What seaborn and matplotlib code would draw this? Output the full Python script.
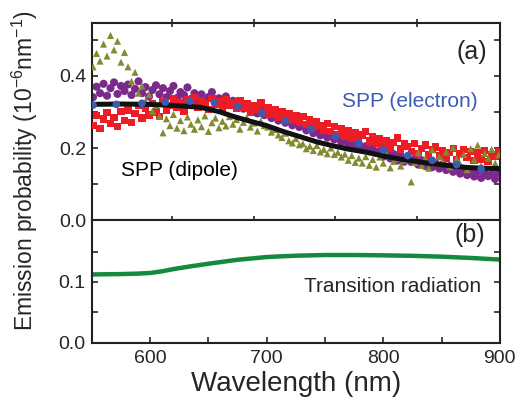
import matplotlib
matplotlib.use("Agg")
import matplotlib.pyplot as plt
import numpy as np
import seaborn as sns

# measured spectra, one point every 3 nm from 551 to 899 nm
wl_scan = np.arange(551, 900, 3)

red_vals = [
    0.262, 0.291, 0.255, 0.280, 0.298, 0.268, 0.284, 0.259, 0.301, 0.276,
    0.305, 0.270, 0.296, 0.318, 0.283, 0.309, 0.292, 0.324, 0.300, 0.287,
    0.329, 0.305, 0.318, 0.336, 0.312, 0.327, 0.301, 0.333, 0.319, 0.340,
    0.314, 0.331, 0.322, 0.307, 0.338, 0.320, 0.329, 0.311, 0.335, 0.318,
    0.326, 0.309, 0.331, 0.314, 0.322, 0.300, 0.318, 0.306, 0.325, 0.297,
    0.311, 0.293, 0.305, 0.286, 0.300, 0.283, 0.296, 0.278, 0.291, 0.272,
    0.287, 0.265, 0.279, 0.258, 0.273, 0.262, 0.250, 0.268, 0.245, 0.259,
    0.238, 0.254, 0.233, 0.249, 0.228, 0.243, 0.222, 0.236, 0.246, 0.219,
    0.231, 0.213, 0.226, 0.208, 0.221, 0.200, 0.215, 0.228, 0.197, 0.211,
    0.205, 0.190, 0.213, 0.184, 0.199, 0.208, 0.181, 0.196, 0.203, 0.178,
    0.193, 0.172, 0.188, 0.199, 0.168, 0.184, 0.195, 0.174, 0.190, 0.165,
    0.186, 0.170, 0.194, 0.163, 0.181, 0.176, 0.190,
]

purple_vals = [
    0.341, 0.370, 0.352, 0.378, 0.345, 0.366, 0.382, 0.350, 0.372, 0.358,
    0.376, 0.347, 0.364, 0.385, 0.352, 0.369, 0.343, 0.361, 0.374, 0.349,
    0.366, 0.341, 0.358, 0.372, 0.339, 0.355, 0.347, 0.368, 0.336, 0.352,
    0.333, 0.349, 0.326, 0.341, 0.355, 0.330, 0.338, 0.322, 0.343, 0.327,
    0.331, 0.316, 0.327, 0.309, 0.320, 0.303, 0.314, 0.296, 0.305, 0.291,
    0.299, 0.283, 0.292, 0.276, 0.285, 0.270, 0.279, 0.263, 0.272, 0.258,
    0.264, 0.249, 0.256, 0.241, 0.250, 0.235, 0.243, 0.229, 0.238, 0.224,
    0.230, 0.216, 0.224, 0.209, 0.217, 0.203, 0.212, 0.196, 0.205, 0.191,
    0.199, 0.186, 0.192, 0.176, 0.187, 0.171, 0.183, 0.165, 0.178, 0.162,
    0.175, 0.161, 0.170, 0.154, 0.166, 0.150, 0.162, 0.147, 0.158, 0.143,
    0.155, 0.139, 0.150, 0.134, 0.146, 0.129, 0.142, 0.125, 0.138, 0.121,
    0.136, 0.117, 0.133, 0.122, 0.128, 0.114, 0.131,
]

olive_vals = [
    0.425, 0.462, 0.441, 0.488, 0.455, 0.512, 0.472, 0.496, 0.438, 0.465,
    0.425, 0.385, 0.410, 0.352, 0.372, 0.330, 0.348, 0.302, 0.318, 0.288,
    0.242, 0.281, 0.262, 0.293, 0.255, 0.276, 0.248, 0.286, 0.266, 0.252,
    0.278, 0.259, 0.289, 0.246, 0.270, 0.283, 0.256, 0.274, 0.261, 0.287,
    0.266, 0.279, 0.252, 0.271, 0.285, 0.258, 0.269, 0.247, 0.275, 0.262,
    0.258, 0.244, 0.251, 0.236, 0.229, 0.241, 0.220, 0.214, 0.226, 0.209,
    0.212, 0.198, 0.205, 0.193, 0.207, 0.189, 0.196, 0.184, 0.200, 0.182,
    0.188, 0.175, 0.183, 0.166, 0.179, 0.160, 0.172, 0.158, 0.176, 0.152,
    0.168, 0.147, 0.175, 0.158, 0.182, 0.145, 0.163, 0.171, 0.150, 0.166,
    0.178, 0.106, 0.160, 0.187, 0.152, 0.171, 0.144, 0.195, 0.158, 0.176,
    0.163, 0.189, 0.148, 0.201, 0.170, 0.155, 0.182, 0.140, 0.198, 0.167,
    0.208, 0.151, 0.185, 0.172, 0.196, 0.158, 0.181,
]

# SPP (electron) calculation, blue dots
wl_electron = [551, 571, 593, 613, 634, 655, 675, 696, 716, 738, 759, 779, 800, 821, 842, 863, 884]
electron_vals = [0.319, 0.321, 0.324, 0.327, 0.330, 0.326, 0.315, 0.296, 0.275, 0.253,
                 0.232, 0.213, 0.195, 0.179, 0.166, 0.154, 0.142]

# SPP (dipole) calculation, black line
wl_dipole = [550, 575, 600, 620, 643, 660, 671, 685, 700, 714, 730, 743, 757, 770,
             786, 800, 815, 830, 843, 857, 872, 886, 900]
dipole_vals = [0.321, 0.322, 0.321, 0.318, 0.313, 0.300, 0.288, 0.275, 0.262, 0.246,
               0.230, 0.217, 0.206, 0.197, 0.188, 0.178, 0.169, 0.162, 0.156, 0.151,
               0.146, 0.144, 0.143]

# transition radiation, green line
wl_tr = [550, 575, 590, 600, 610, 620, 635, 650, 675, 700, 725, 750, 775, 800,
         825, 850, 875, 900]
tr_vals = [0.1124, 0.1130, 0.1138, 0.1148, 0.1175, 0.1212, 0.1258, 0.1300, 0.1365,
           0.1410, 0.1432, 0.1443, 0.1443, 0.1438, 0.1430, 0.1416, 0.1395, 0.1368]

sns.set_style("ticks")
plt.rcParams["font.family"] = ["Liberation Sans", "DejaVu Sans"]
plt.rcParams["mathtext.fontset"] = "custom"
plt.rcParams["mathtext.rm"] = "Liberation Sans"
plt.rcParams["mathtext.it"] = "Liberation Sans"

fig = plt.figure(figsize=(5.25, 4.01), dpi=100)
ax_a = fig.add_axes([0.175, 0.451, 0.777, 0.492])
ax_b = fig.add_axes([0.175, 0.145, 0.777, 0.306])

# ---- panel (a)
sns.scatterplot(x=wl_scan, y=purple_vals, marker="o", s=34, color="#7b2a8c",
                edgecolor="none", ax=ax_a, zorder=2)
sns.scatterplot(x=wl_scan, y=red_vals, marker="s", s=28, color="#ee1c24",
                edgecolor="none", ax=ax_a, zorder=3)
sns.scatterplot(x=wl_scan, y=olive_vals, marker="^", s=26, color="#848a30",
                edgecolor="none", ax=ax_a, zorder=3)
ax_a.plot(wl_dipole, dipole_vals, color="#111111", lw=3.6, zorder=4,
          solid_capstyle="butt")
sns.scatterplot(x=wl_electron, y=electron_vals, marker="o", s=30, color="#3a5cb5",
                edgecolor="none", ax=ax_a, zorder=5)

ax_a.set_xlim(550, 900)
ax_a.set_ylim(0, 0.547)
ax_a.set_xticks([619, 689, 759, 829])
ax_a.set_xticklabels([])
ax_a.set_yticks([0.0, 0.2, 0.4])
ax_a.set_yticklabels(["0.0", "0.2", "0.4"])
ax_a.set_yticks([0.1, 0.3, 0.5], minor=True)
ax_a.tick_params(axis="y", which="both", direction="in", left=True, right=True,
                 length=4, width=1.2, labelsize=14, pad=4)
ax_a.tick_params(axis="x", which="both", direction="inout", top=True, bottom=True,
                 length=6, width=1.2)

ax_a.text(889, 0.467, "(a)", fontsize=18, ha="right", va="center")
ax_a.text(881, 0.328, "SPP (electron)", fontsize=15, color="#3a5cb5",
          ha="right", va="center")
ax_a.text(575, 0.138, "SPP (dipole)", fontsize=15, color="black",
          ha="left", va="center")

# ---- panel (b)
ax_b.plot(wl_tr, tr_vals, color="#138a3c", lw=3.2, solid_capstyle="butt")
ax_b.set_xlim(550, 900)
ax_b.set_ylim(0, 0.2016)
ax_b.set_xticks([600, 700, 800, 900])
ax_b.set_xticks([650, 750, 850], minor=True)
ax_b.set_yticks([0.0, 0.1])
ax_b.set_yticklabels(["0.0", "0.1"])
ax_b.set_yticks([0.05, 0.15], minor=True)
ax_b.tick_params(axis="both", which="both", direction="in", left=True, right=True,
                 bottom=True, top=False, length=4, width=1.2, labelsize=14, pad=5)
ax_b.set_xlabel("Wavelength (nm)", fontsize=20, labelpad=3)

ax_b.text(887, 0.178, "(b)", fontsize=18, ha="right", va="center")
ax_b.text(884, 0.093, "Transition radiation", fontsize=15, ha="right", va="center")

for ax in (ax_a, ax_b):
    for sp in ax.spines.values():
        sp.set_linewidth(1.5)
        sp.set_color("#222222")

fig.text(0.048, 0.575, "Emission probability (10$^{-6}$nm$^{-1}$)", rotation=90,
         fontsize=16.5, ha="center", va="center")

fig.savefig("out.png", dpi=100)
